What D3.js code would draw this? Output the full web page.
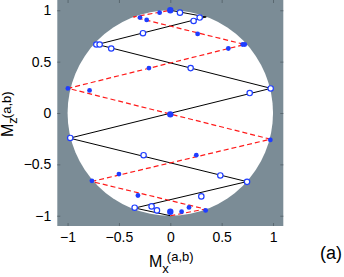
<!DOCTYPE html>
<html>
<head>
<meta charset="utf-8">
<script src="https://cdn.jsdelivr.net/npm/d3@7"></script>
<style>
  body { margin: 0; background: #fff; }
  svg { display: block; font-family: "Liberation Sans", Arial, sans-serif; }
</style>
</head>
<body>
<svg id="chart" width="344" height="277"></svg>
<script>
// trajectory vertices (Mx, Mz)
const blackX = [0, 0.35, -0.71, 0.98, -0.98, 0.745, -0.345, 0];
const blackZ = [1, 0.935, 0.667, 0.24, -0.245, -0.668, -0.925, -1];
const redX = [0, 0.34, -0.765, 0.975, -0.995, 0.725, -0.36, 0];
const redZ = [-1, -0.935, -0.667, -0.255, 0.24, 0.667, 0.935, 1];

// filled blue dots
const dotX = [-0.104, -0.295, -0.23, 0.266, 0.565, 0.705, 0.725, -0.208, -0.997, -0.786,
  0.974, 0.253, -0.5, -0.763, -0.315, 0.182, 0.11, 0.344];
const dotZ = [0.977, 0.929, 0.906, 0.77, 0.628, 0.667, 0.667, 0.437, 0.239, 0.22,
  -0.262, -0.411, -0.595, -0.66, -0.803, -0.919, -0.961, -0.948];
// bigger filled dots
const bigX = [0, 0, 0];
const bigZ = [1, -0.013, -0.961];

// open blue circles
const ringX = [0.094, 0.286, 0.227, -0.266, -0.72, -0.688, -0.575, 0.198, 0.977, 0.773,
  -0.974, -0.26, 0.487, 0.747, 0.302, -0.347, -0.182, -0.13];
const ringZ = [0.977, 0.929, 0.896, 0.777, 0.667, 0.667, 0.628, 0.437, 0.239, 0.194,
  -0.243, -0.411, -0.608, -0.67, -0.812, -0.922, -0.909, -0.948];

const ticks = [-1, -0.5, 0, 0.5, 1];

const svg = d3.select("#chart");
const plotL = 57.3, plotR = 283.3, plotT = 0, plotB = 226;

const x = d3.scaleLinear().domain([-1.1, 1.1]).range([plotL, plotR]);
const y = d3.scaleLinear().domain([-1.1, 1.1]).range([plotB, plotT]);

svg.append("rect")
  .attr("x", plotL).attr("y", plotT)
  .attr("width", plotR - plotL).attr("height", plotB - plotT)
  .attr("fill", "#7b8c96");

svg.append("circle")
  .attr("cx", x(0)).attr("cy", y(0))
  .attr("r", x(1) - x(0))
  .attr("fill", "#fff");

const line = d3.line().x((d) => x(d[0])).y((d) => y(d[1]));

svg.append("path")
  .attr("d", line(blackX.map((v, i) => [v, blackZ[i]])))
  .attr("fill", "none")
  .attr("stroke", "#000")
  .attr("stroke-width", 1);

svg.append("path")
  .attr("d", line(redX.map((v, i) => [v, redZ[i]])))
  .attr("fill", "none")
  .attr("stroke", "#ff1a1a")
  .attr("stroke-width", 1.2)
  .attr("stroke-dasharray", "5,3");

const blue = "#1f3dff";

svg.selectAll(".ring")
  .data(ringX.map((v, i) => [v, ringZ[i]]))
  .enter()
  .append("circle")
  .attr("class", "ring")
  .attr("cx", (d) => x(d[0]))
  .attr("cy", (d) => y(d[1]))
  .attr("r", 2.7)
  .attr("fill", "#fff")
  .attr("stroke", blue)
  .attr("stroke-width", 1.2);

svg.selectAll(".dot")
  .data(dotX.map((v, i) => [v, dotZ[i]]))
  .enter()
  .append("circle")
  .attr("class", "dot")
  .attr("cx", (d) => x(d[0]))
  .attr("cy", (d) => y(d[1]))
  .attr("r", 2.4)
  .attr("fill", blue);

svg.selectAll(".big")
  .data(bigX.map((v, i) => [v, bigZ[i]]))
  .enter()
  .append("circle")
  .attr("class", "big")
  .attr("cx", (d) => x(d[0]))
  .attr("cy", (d) => y(d[1]))
  .attr("r", 3.2)
  .attr("fill", blue);

// axes, matlab style ticks inside on all sides
const tickFmt = (d) => (d < 0 ? "\u2212" + Math.abs(d) : "" + d);

svg.append("g")
  .attr("transform", `translate(0,${plotB})`)
  .call(d3.axisBottom(x).tickValues(ticks).tickSize(-3).tickPadding(6).tickFormat(tickFmt));
svg.append("g")
  .attr("transform", `translate(${plotL},0)`)
  .call(d3.axisLeft(y).tickValues(ticks).tickSize(-3).tickPadding(6).tickFormat(tickFmt));
svg.append("g")
  .attr("transform", `translate(0,${plotT})`)
  .call(d3.axisTop(x).tickValues(ticks).tickSize(-3).tickFormat(""));
svg.append("g")
  .attr("transform", `translate(${plotR},0)`)
  .call(d3.axisRight(y).tickValues(ticks).tickSize(-3).tickFormat(""));

svg.selectAll(".domain").remove();
svg.selectAll(".tick line").attr("stroke", "#5a6870");
svg.selectAll(".tick text")
  .attr("fill", "#000")
  .style("font-size", "14px")
  .style("font-family", "'Liberation Sans', Arial, sans-serif");

// axis labels
const xl = svg.append("text")
  .attr("x", 149).attr("y", 267)
  .style("font-size", "16px");
xl.append("tspan").text("M");
xl.append("tspan").attr("dy", 6).style("font-size", "13px").text("x");
xl.append("tspan").attr("dx", -2).attr("dy", -12).style("font-size", "13px").text("(a,b)");

const yl = svg.append("text")
  .attr("transform", "translate(13,137) rotate(-90)")
  .style("font-size", "16px");
yl.append("tspan").text("M");
yl.append("tspan").attr("dy", 3.5).style("font-size", "13px").text("z");
yl.append("tspan").attr("dx", -1).attr("dy", -6).style("font-size", "13px").text("(a,b)");

svg.append("text")
  .attr("x", 320).attr("y", 259)
  .style("font-size", "18px")
  .text("(a)");
</script>
</body>
</html>
